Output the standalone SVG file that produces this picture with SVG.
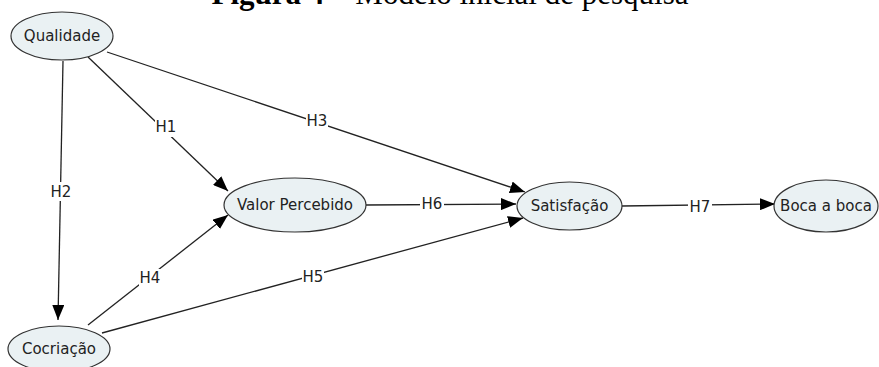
<svg xmlns="http://www.w3.org/2000/svg" width="879" height="367" viewBox="0 0 879 367">
<style>
.node ellipse{fill:#eaf1f3;stroke:#333;stroke-width:1.2}
.node text{font-family:"DejaVu Sans",Verdana,sans-serif;font-size:15px;fill:#222;text-anchor:middle;dominant-baseline:central}
.conn line{stroke:#222;stroke-width:1.3}
.lbl{font-family:"DejaVu Sans",Verdana,sans-serif;font-size:15px;fill:#222;text-anchor:middle;dominant-baseline:central}
.bg{fill:#fff}
.title{font-family:"Liberation Serif","Times New Roman",serif;font-size:31px;fill:#000;text-anchor:middle}
</style>
<defs>
<marker id="arr" markerUnits="userSpaceOnUse" markerWidth="16" markerHeight="12" refX="15" refY="6" orient="auto">
<path d="M0,0 L15,6 L0,12 Z" fill="#000"/>
</marker>
</defs>
<text class="title" x="450" y="4"><tspan font-weight="bold">Figura 4 –</tspan> Modelo inicial de pesquisa</text>
<g class="conn">
<line x1="63" y1="61" x2="58" y2="320" marker-end="url(#arr)"/>
<line x1="88" y1="57" x2="228" y2="191" marker-end="url(#arr)"/>
<line x1="107" y1="52" x2="525" y2="192" marker-end="url(#arr)"/>
<line x1="366" y1="205" x2="516" y2="204" marker-end="url(#arr)"/>
<line x1="88" y1="325" x2="228" y2="215" marker-end="url(#arr)"/>
<line x1="102" y1="333" x2="523" y2="218" marker-end="url(#arr)"/>
<line x1="622" y1="206" x2="775" y2="204" marker-end="url(#arr)"/>
<rect class="bg" x="50" y="182" width="22" height="19"/><text class="lbl" x="61" y="192">H2</text>
<rect class="bg" x="155" y="118" width="22" height="19"/><text class="lbl" x="166" y="127">H1</text>
<rect class="bg" x="306" y="112" width="22" height="19"/><text class="lbl" x="317" y="121">H3</text>
<rect class="bg" x="420" y="195" width="24" height="19"/><text class="lbl" x="432" y="204">H6</text>
<rect class="bg" x="139" y="269" width="22" height="19"/><text class="lbl" x="150" y="278">H4</text>
<rect class="bg" x="302" y="268" width="22" height="19"/><text class="lbl" x="313" y="277">H5</text>
<rect class="bg" x="688" y="198" width="24" height="19"/><text class="lbl" x="700" y="207">H7</text>
</g>
<g id="qualidade" class="node"><ellipse cx="62" cy="36" rx="51" ry="24"/><text x="62" y="36">Qualidade</text></g>
<g id="valor" class="node"><ellipse cx="295" cy="205" rx="71" ry="27"/><text x="295" y="205">Valor Percebido</text></g>
<g id="satisfacao" class="node"><ellipse cx="569.5" cy="206" rx="52.5" ry="24"/><text x="569.5" y="206">Satisfação</text></g>
<g id="boca" class="node"><ellipse cx="826" cy="206" rx="52" ry="26"/><text x="826" y="206">Boca a boca</text></g>
<g id="cocriacao" class="node"><ellipse cx="59" cy="349" rx="51" ry="23"/><text x="59" y="349">Cocriação</text></g>
</svg>
